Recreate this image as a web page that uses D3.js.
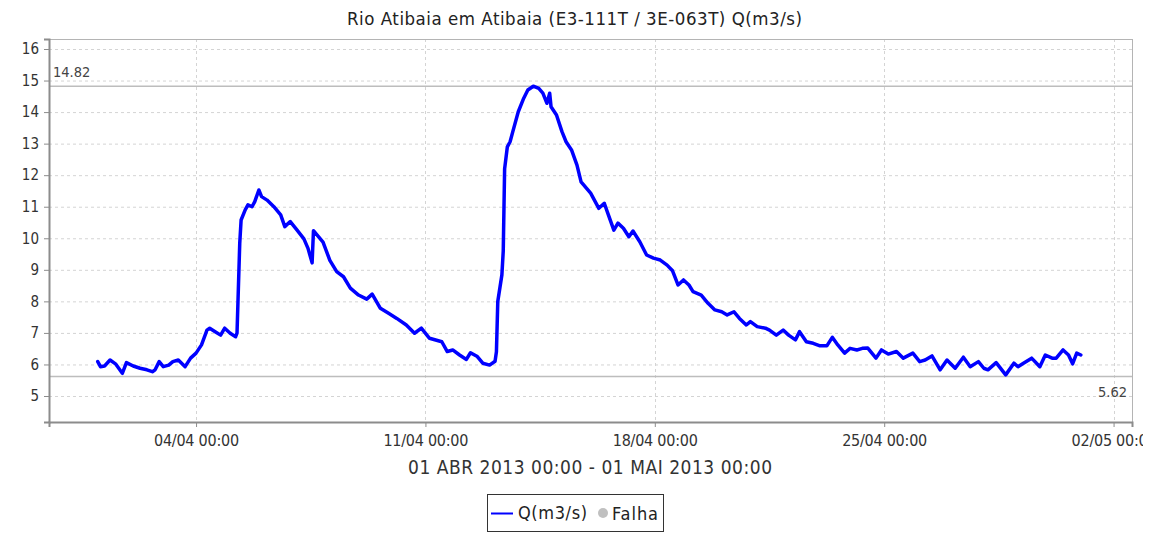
<!DOCTYPE html>
<style>
body {
  margin: 0;
  background: #fff;
  font-family: 'DejaVu Sans Condensed', 'DejaVu Sans', sans-serif;
}
.grid line {
  stroke: #d4d4d4;
  stroke-dasharray: 3,3;
}
.axis .domain {
  stroke: #8c8c8c;
  stroke-width: 2;
}
.axis .tick line {
  stroke: #8c8c8c;
}
.axis text {
  fill: #333;
}
</style>
<svg width="1164" height="533"></svg>
<script src="https://d3js.org/d3.v7.min.js"></script>
<script>
// hours since 01/04/2013 00:00 and flow in m3/s
var hours = [0, 2, 5, 9, 13, 18, 21, 26, 31, 36, 40, 42, 45, 48, 52, 55, 59, 64, 68, 72,
  76, 80, 82, 86, 90, 93, 97, 101, 102, 104, 105, 108, 110, 113, 115, 118, 120, 124, 129, 134,
  137, 141, 146, 151, 154, 157, 158, 165, 170, 175, 180, 185, 191, 197, 201, 207, 213, 219, 226, 232,
  237, 243, 252, 256, 260, 265, 270, 273, 278, 282, 287, 291, 292, 293, 296, 297, 298, 300, 302, 304,
  308, 312, 315, 319, 323, 326, 329, 331, 332, 336, 340, 343, 347, 351, 354, 361, 367, 371, 374, 378,
  381, 385, 389, 392, 397, 402, 407, 412, 417, 421, 425, 429, 433, 436, 442, 447, 452, 457, 461, 466,
  470, 475, 478, 483, 489, 492, 497, 502, 506, 511, 514, 519, 524, 529, 534, 538, 542, 547, 551, 556,
  560, 564, 570, 574, 579, 585, 590, 597, 602, 606, 611, 617, 622, 628, 634, 639, 645, 649, 652, 658,
  665, 671, 674, 678, 684, 690, 694, 699, 702, 707, 711, 714, 717, 720];
var flow = [6.09, 5.93, 5.95, 6.14, 6.02, 5.72, 6.06, 5.95, 5.88, 5.83, 5.77, 5.83, 6.09, 5.93, 5.98, 6.09, 6.14, 5.93, 6.20, 6.36,
  6.62, 7.09, 7.15, 7.04, 6.93, 7.15, 6.99, 6.88, 6.99, 9.84, 10.58, 10.90, 11.06, 11.00, 11.16, 11.53, 11.32, 11.21, 11.00, 10.74,
  10.37, 10.53, 10.26, 9.98, 9.68, 9.22, 10.24, 9.88, 9.30, 8.94, 8.78, 8.42, 8.20, 8.07, 8.23, 7.78, 7.62, 7.46, 7.25, 6.99,
  7.15, 6.83, 6.72, 6.41, 6.46, 6.30, 6.16, 6.37, 6.25, 6.04, 5.98, 6.10, 6.40, 8.00, 8.84, 9.60, 12.20, 12.90, 13.06, 13.38,
  14.01, 14.44, 14.70, 14.82, 14.75, 14.60, 14.28, 14.60, 14.17, 13.91, 13.38, 13.06, 12.80, 12.32, 11.79, 11.43, 10.95, 11.11, 10.74, 10.26,
  10.48, 10.32, 10.05, 10.23, 9.89, 9.47, 9.37, 9.31, 9.15, 8.97, 8.52, 8.68, 8.52, 8.31, 8.20, 7.94, 7.73, 7.67, 7.57, 7.67,
  7.46, 7.25, 7.36, 7.20, 7.15, 7.09, 6.93, 7.09, 6.93, 6.78, 7.04, 6.72, 6.67, 6.59, 6.59, 6.86, 6.62, 6.36, 6.51, 6.46,
  6.51, 6.52, 6.20, 6.46, 6.33, 6.41, 6.20, 6.36, 6.09, 6.14, 6.27, 5.83, 6.14, 5.88, 6.23, 5.93, 6.09, 5.88, 5.83, 6.06,
  5.67, 6.04, 5.93, 6.04, 6.20, 5.93, 6.30, 6.20, 6.20, 6.46, 6.30, 6.02, 6.36, 6.30];

var yTicks = [5, 6, 7, 8, 9, 10, 11, 12, 13, 14, 15, 16];
var xTickDates = ["2013-04-04", "2013-04-11", "2013-04-18", "2013-04-25", "2013-05-02"];
var maxLabel = "14.82";
var minLabel = "5.62";
var titleText = "Rio Atibaia em Atibaia (E3-111T / 3E-063T) Q(m3/s)";
var periodText = "01 ABR 2013 00:00 - 01 MAI 2013 00:00";
var seriesName = "Q(m3/s)";
var failName = "Falha";

var svg = d3.select("svg"),
    margin = {top: 39, right: 32, bottom: 111, left: 49},
    width = +svg.attr("width") - margin.left - margin.right,
    height = +svg.attr("height") - margin.top - margin.bottom,
    g = svg.append("g").attr("transform", "translate(" + margin.left + "," + margin.top + ")");

// the original canvas stops a little before the right edge
svg.append("clipPath")
    .attr("id", "canvas-clip")
  .append("rect")
    .attr("x", -margin.left)
    .attr("y", -margin.top)
    .attr("width", 1143)
    .attr("height", 533);

var start = new Date(2013, 3, 1, 0, 0);
var hourMs = 3600 * 1000;
var data = hours.map(function(h, i) {
  return {t: new Date(start.getTime() + h * hourMs), v: flow[i]};
});

var x = d3.scaleTime()
    .domain([new Date(start.getTime() - 35.7 * hourMs), new Date(start.getTime() + 757.5 * hourMs)])
    .range([0, width]);

var y = d3.scaleLinear()
    .domain([4.176, 16.317])
    .range([height, 0]);

var parseDay = d3.timeParse("%Y-%m-%d");
var xTicks = xTickDates.map(parseDay);
var fmt = d3.timeFormat("%d/%m %H:%M");

// grid
g.append("g")
    .attr("class", "grid")
  .selectAll("line")
  .data(yTicks)
  .enter().append("line")
    .attr("x1", 0)
    .attr("x2", width)
    .attr("y1", function(d) { return y(d) + 0.5; })
    .attr("y2", function(d) { return y(d) + 0.5; });

g.append("g")
    .attr("class", "grid")
  .selectAll("line")
  .data(xTicks)
  .enter().append("line")
    .attr("x1", function(d) { return Math.round(x(d)) + 0.5; })
    .attr("x2", function(d) { return Math.round(x(d)) + 0.5; })
    .attr("y1", 0)
    .attr("y2", height);

// plot border
g.append("rect")
    .attr("x", 0.5)
    .attr("y", 0.5)
    .attr("width", width)
    .attr("height", height)
    .attr("fill", "none")
    .attr("stroke", "#b4b4b4");

// max / min markers
[[14.82, maxLabel], [5.62, minLabel]].forEach(function(m, i) {
  g.append("line")
      .attr("x1", 0)
      .attr("x2", width)
      .attr("y1", y(m[0]))
      .attr("y2", y(m[0]))
      .attr("stroke", "#bdbdbd")
      .attr("stroke-width", 1.5);
  g.append("text")
      .attr("x", i == 0 ? 4 : width - 5)
      .attr("y", i == 0 ? y(m[0]) - 9 : y(m[0]) + 21)
      .attr("text-anchor", i == 0 ? "start" : "end")
      .attr("font-size", 14.5)
      .attr("fill", "#444")
      .text(m[1]);
});

// series
var line = d3.line()
    .x(function(d) { return x(d.t); })
    .y(function(d) { return y(d.v); });

g.append("path")
    .datum(data)
    .attr("fill", "none")
    .attr("stroke", "#0000ff")
    .attr("stroke-width", 3.5)
    .attr("stroke-linejoin", "round")
    .attr("stroke-linecap", "round")
    .attr("d", line);

// axes
g.append("g")
    .attr("class", "axis")
    .call(d3.axisLeft(y).tickValues(yTicks).tickSize(5).tickPadding(5).tickFormat(d3.format("d")))
    .attr("font-family", null)
    .attr("font-size", 15);

var xAxis = g.append("g")
    .attr("class", "axis")
    .attr("transform", "translate(0," + height + ")")
    .attr("clip-path", "url(#canvas-clip)")
    .call(d3.axisBottom(x).tickValues(xTicks).tickSize(5).tickPadding(8).tickFormat(fmt))
    .attr("font-family", null)
    .attr("font-size", 16);
xAxis.selectAll(".tick text")
    .attr("textLength", 85)
    .attr("lengthAdjust", "spacing");

// title and period
svg.append("text")
    .attr("x", 347)
    .attr("y", 25)
    .attr("font-size", 18.5)
    .attr("fill", "#222")
    .attr("textLength", 455)
    .attr("lengthAdjust", "spacing")
    .text(titleText);

svg.append("text")
    .attr("x", 408)
    .attr("y", 474)
    .attr("font-size", 19)
    .attr("fill", "#333")
    .attr("textLength", 364)
    .attr("lengthAdjust", "spacing")
    .text(periodText);

// legend
var legend = svg.append("g").attr("transform", "translate(487,494)");
legend.append("rect")
    .attr("x", 0.5)
    .attr("y", 0.5)
    .attr("width", 176)
    .attr("height", 37)
    .attr("fill", "#fff")
    .attr("stroke", "#333");
legend.append("line")
    .attr("x1", 4)
    .attr("x2", 26)
    .attr("y1", 19.5)
    .attr("y2", 19.5)
    .attr("stroke", "#0000ff")
    .attr("stroke-width", 2);
legend.append("text")
    .attr("x", 31)
    .attr("y", 25)
    .attr("font-size", 18)
    .attr("fill", "#222")
    .attr("textLength", 69)
    .attr("lengthAdjust", "spacing")
    .text(seriesName);
legend.append("circle")
    .attr("cx", 116)
    .attr("cy", 19)
    .attr("r", 5)
    .attr("fill", "#c0c0c0");
legend.append("text")
    .attr("x", 125)
    .attr("y", 25.5)
    .attr("font-size", 18)
    .attr("fill", "#222")
    .attr("textLength", 46)
    .attr("lengthAdjust", "spacing")
    .text(failName);
</script>
